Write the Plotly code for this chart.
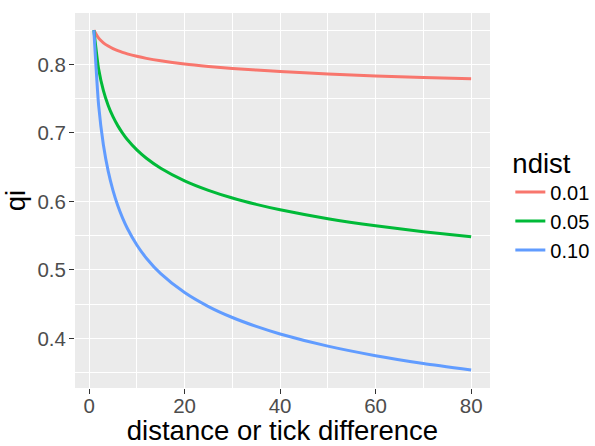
import plotly.graph_objects as go

x_vals = [1, 2, 3, 4, 5, 6, 7, 8, 10, 12, 15, 20, 25, 30, 35, 40, 50, 60, 70, 80]
q_001 = [0.850, 0.8383, 0.8315, 0.8268, 0.8231, 0.8201, 0.8176, 0.8154, 0.8118, 0.8088,
         0.8052, 0.8005, 0.7970, 0.7941, 0.7917, 0.7895, 0.7860, 0.7832, 0.7808, 0.7790]
q_005 = [0.850, 0.7931, 0.7616, 0.7400, 0.7236, 0.7106, 0.6997, 0.6904, 0.6752, 0.6630,
         0.6484, 0.6300, 0.6161, 0.6049, 0.5957, 0.5878, 0.5748, 0.5644, 0.5558, 0.5484]
q_010 = [0.850, 0.7400, 0.6823, 0.6442, 0.6161, 0.5940, 0.5760, 0.5608, 0.5363, 0.5171,
         0.4945, 0.4669, 0.4465, 0.4305, 0.4175, 0.4065, 0.3887, 0.3748, 0.3634, 0.3538]
series_names = ["0.01", "0.05", "0.10"]
series_colors = ["#F8766D", "#00BA38", "#619CFF"]

FONT = "Liberation Sans, Arial"

fig = go.Figure()
for name, ys, col in zip(series_names, [q_001, q_005, q_010], series_colors):
    fig.add_trace(go.Scatter(x=x_vals, y=ys, mode="lines", name=name,
                             line=dict(color=col, width=3, shape="spline", smoothing=0.6)))

axis_common = dict(
    showgrid=True, gridcolor="white", gridwidth=1.4,
    zeroline=False, showline=False, automargin=False,
    ticks="outside", ticklen=5, tickwidth=1.2, tickcolor="#333333",
    tickfont=dict(family=FONT, size=20.5, color="#4D4D4D"),
    title_font=dict(family=FONT, size=27.5, color="black"),
)

fig.update_layout(
    width=595, height=446,
    margin=dict(l=75, r=105, t=13, b=58, autoexpand=False),
    paper_bgcolor="white", plot_bgcolor="#EBEBEB",
    font=dict(family=FONT),
    xaxis=dict(range=[-2.95, 83.95], tickvals=[0, 20, 40, 60, 80],
               ticklabelstandoff=-6,
               minor=dict(tickvals=[10, 30, 50, 70], showgrid=True, gridcolor="white",
                          gridwidth=0.7, ticks=""),
               title=dict(text="distance or tick difference", standoff=13), **axis_common),
    yaxis=dict(range=[0.3276, 0.875], tickvals=[0.4, 0.5, 0.6, 0.7, 0.8],
               tickformat=".1f", ticklabelstandoff=-1,
               minor=dict(tickvals=[0.35, 0.45, 0.55, 0.65, 0.75, 0.85], showgrid=True,
                          gridcolor="white", gridwidth=0.7, ticks=""),
               title=dict(text="qi", standoff=4), **axis_common),
    legend=dict(x=1.049, y=0.67, xanchor="left", yanchor="top",
                title=dict(text="ndist", font=dict(family=FONT, size=27.5, color="black")),
                font=dict(family=FONT, size=20, color="black"), bgcolor="rgba(0,0,0,0)",
                itemwidth=30, tracegroupgap=0),
    showlegend=True,
)

fig.write_html("out.html", config={"displayModeBar": False},
               post_script="document.body.style.margin='0';")
